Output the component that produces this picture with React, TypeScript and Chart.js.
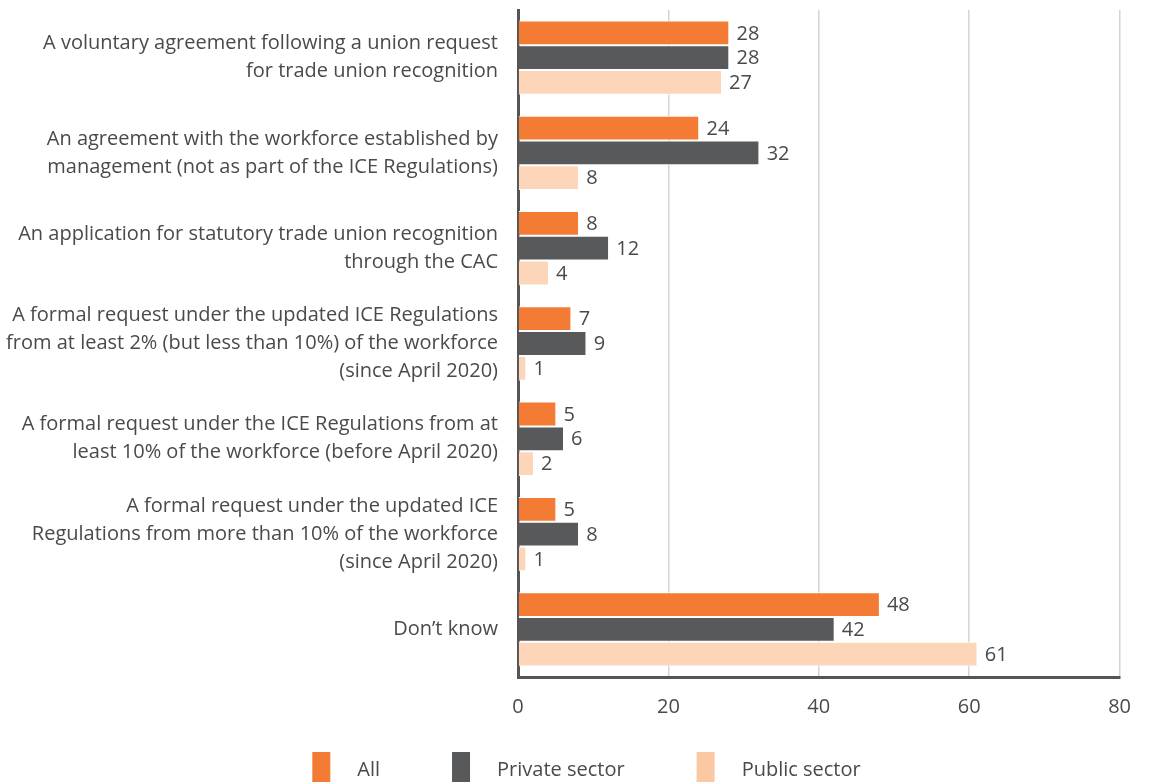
import React, { useEffect, useRef } from "react";
import { Chart, registerables } from "chart.js";

Chart.register(...registerables);

const categories: (string | string[])[] = [
  ["A voluntary agreement following a union request", "for trade union recognition"],
  ["An agreement with the workforce established by", "management (not as part of the ICE Regulations)"],
  ["An application for statutory trade union recognition", "through the CAC"],
  ["A formal request under the updated ICE Regulations", "from at least 2% (but less than 10%) of the workforce", "(since April 2020)"],
  ["A formal request under the ICE Regulations from at", "least 10% of the workforce (before April 2020)"],
  ["A formal request under the updated ICE", "Regulations from more than 10% of the workforce", "(since April 2020)"],
  "Don’t know",
];

const allValues = [28, 24, 8, 7, 5, 5, 48];
const privateValues = [28, 32, 12, 9, 6, 8, 42];
const publicValues = [27, 8, 4, 1, 2, 1, 61];

const xTicks = [0, 20, 40, 60, 80];

const FONT = "'Open Sans', sans-serif";
const SIZE = 20;
const TEXT = "#4a4a4a";

const valueLabels = {
  id: "valueLabels",
  afterDatasetsDraw(chart: any) {
    const ctx = chart.ctx;
    ctx.save();
    ctx.font = `${SIZE}px ${FONT}`;
    ctx.fillStyle = TEXT;
    ctx.textAlign = "left";
    ctx.textBaseline = "middle";
    chart.data.datasets.forEach((ds: any, i: number) => {
      const meta = chart.getDatasetMeta(i);
      meta.data.forEach((bar: any, j: number) => {
        ctx.fillText(String(ds.data[j]), bar.x + 8, bar.y + 1);
      });
    });
    ctx.restore();
  },
};

const customLegend = {
  id: "customLegend",
  afterDraw(chart: any) {
    const ctx = chart.ctx;
    const ds = chart.data.datasets;
    ctx.save();
    ctx.font = `${SIZE}px ${FONT}`;
    const boxW = 18;
    const boxH = 30;
    const textGap = 27;
    const itemGap = 72;
    const widths = ds.map((d: any) => boxW + textGap + ctx.measureText(d.label).width);
    const total = widths.reduce((a: number, b: number) => a + b, 0) + itemGap * (ds.length - 1);
    let x = chart.width / 2 + 12 - total / 2;
    const top = chart.chartArea.bottom + 75;
    ds.forEach((d: any, i: number) => {
      ctx.fillStyle = d.legendColor || d.backgroundColor;
      ctx.fillRect(x, top, boxW, boxH);
      ctx.fillStyle = TEXT;
      ctx.textAlign = "left";
      ctx.textBaseline = "middle";
      ctx.fillText(d.label, x + boxW + textGap, top + 18);
      x += widths[i] + itemGap;
    });
    ctx.restore();
  },
};

export default function App() {
  const ref = useRef<HTMLCanvasElement | null>(null);

  useEffect(() => {
    if (!ref.current) return;
    const border = { top: 1, bottom: 1, left: 0, right: 0 };
    const chart = new Chart(ref.current, {
      type: "bar",
      data: {
        labels: categories,
        datasets: [
          { label: "All", data: allValues, backgroundColor: "#F47B33", borderColor: "#ffffff", borderWidth: border, borderSkipped: false },
          { label: "Private sector", data: privateValues, backgroundColor: "#58595B", borderColor: "#ffffff", borderWidth: border, borderSkipped: false },
          { label: "Public sector", data: publicValues, backgroundColor: "#FDD5B9", legendColor: "#FBC8A4", borderColor: "#ffffff", borderWidth: border, borderSkipped: false } as any,
        ],
      },
      options: {
        indexAxis: "y",
        animation: false,
        responsive: true,
        maintainAspectRatio: false,
        layout: { padding: { top: 10, right: 28, bottom: 78, left: 0 } },
        datasets: { bar: { categoryPercentage: 0.78, barPercentage: 1 } },
        plugins: {
          legend: { display: false },
          tooltip: { enabled: false },
        },
        scales: {
          x: {
            min: 0,
            max: 80,
            afterBuildTicks(scale: any) {
              scale.ticks = xTicks.map((v) => ({ value: v }));
            },
            afterFit(scale: any) {
              scale.height = 45;
            },
            grid: { color: "#d4d4d4", lineWidth: 1.5, drawTicks: false },
            border: { display: true, color: "#555555", width: 3 },
            ticks: { padding: 18, color: TEXT, font: { family: FONT, size: SIZE } },
          },
          y: {
            afterFit(scale: any) {
              scale.width = 518;
              scale.paddingTop = 0;
              scale.paddingBottom = 0;
            },
            grid: { display: false, drawTicks: false },
            border: { display: true, color: "#555555", width: 3 },
            ticks: {
              padding: 20,
              color: TEXT,
              font: { family: FONT, size: SIZE, lineHeight: 1.4 },
            },
          },
        },
      },
      plugins: [valueLabels, customLegend],
    });
    return () => chart.destroy();
  }, []);

  return (
    <div style={{ position: "fixed", left: 0, top: 0, width: 1149, height: 800, background: "#fff" }}>
      <canvas ref={ref} />
    </div>
  );
}
